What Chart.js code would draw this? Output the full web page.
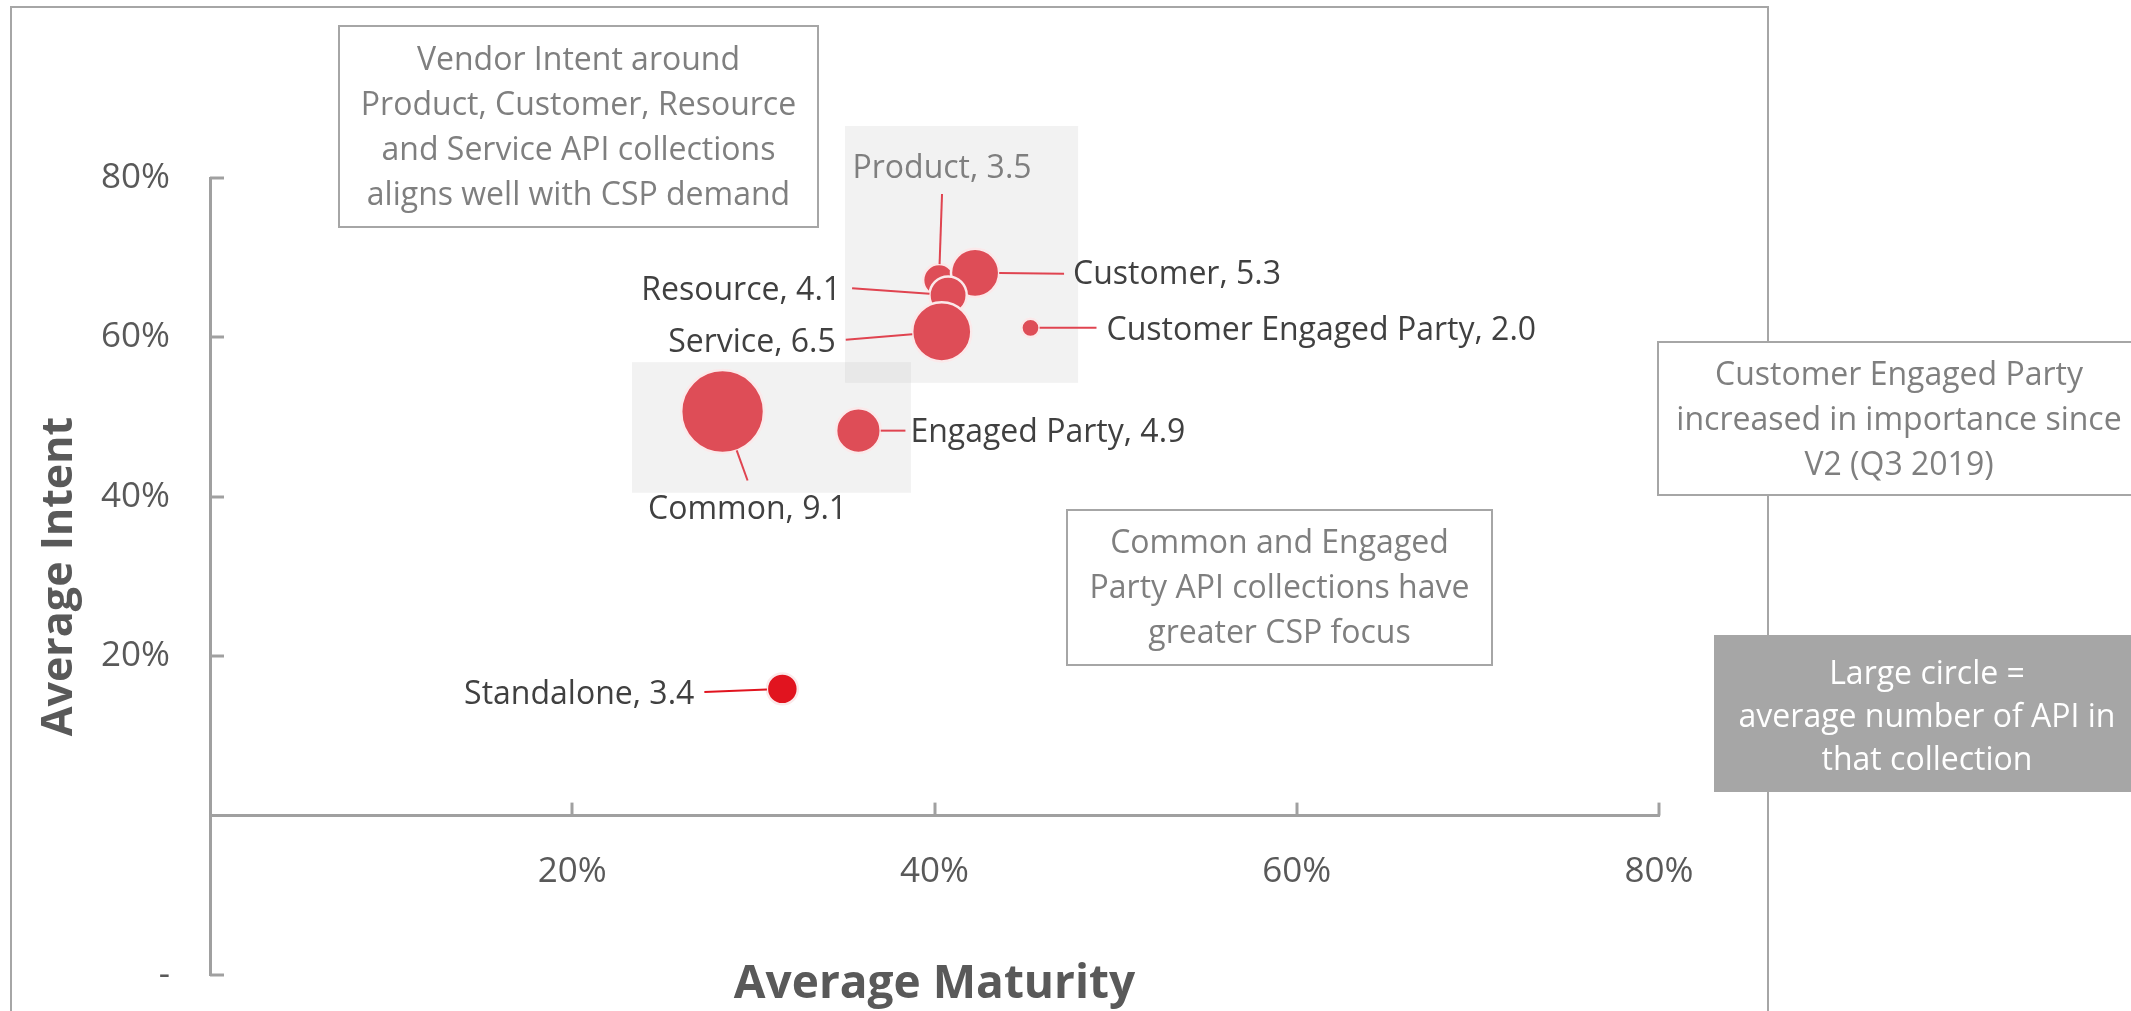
<!DOCTYPE html>
<html><head><meta charset="utf-8">
<script src="https://cdn.jsdelivr.net/npm/chart.js@4/dist/chart.umd.min.js"></script>
<style>html,body{margin:0;padding:0;background:#fff;overflow:hidden}canvas{display:block}</style>
</head><body>
<canvas id="c" width="2131" height="1011"></canvas>
<script>
// ---------- data ----------
const categories = ['Product','Customer','Resource','Service','Customer Engaged Party','Engaged Party','Common','Standalone'];
const maturity   = [0.4025, 0.4224, 0.4075, 0.404, 0.453, 0.358, 0.283, 0.316];
const intent     = [0.672, 0.681, 0.653, 0.607, 0.612, 0.483, 0.507, 0.159];
const apiCount   = [3.5, 5.3, 4.1, 6.5, 2.0, 4.9, 9.1, 3.4];
const xTickValues = [0, 0.2, 0.4, 0.6, 0.8];
const yTickValues = [-0.2, 0, 0.2, 0.4, 0.6, 0.8];
const xTitle = 'Average Maturity';
const yTitle = 'Average Intent';

// highlight regions (data coordinates)
const highlightX0 = [0.3506, 0.233];
const highlightX1 = [0.4793, 0.387];
const highlightY0 = [0.543, 0.405];
const highlightY1 = [0.8652, 0.569];

// annotation texts
const noteVendor = ['Vendor Intent around','Product, Customer, Resource','and Service API collections','aligns well with CSP demand'];
const noteCommon = ['Common and Engaged','Party API collections have','greater CSP focus'];
const noteCEP    = ['Customer Engaged Party','increased in importance since','V2 (Q3 2019)'];
const noteLegend = ['Large circle =','average number of API in','that collection'];

// ---------- styles / layout ----------
const FONT = "'Open Sans', 'Noto Sans', sans-serif";
const BUBBLE = '#de4d57';
const BUBBLE_HI = '#e1141f';
const RADIUS_PER_UNIT = 4.55;
const AXIS = '#a0a0a0';

const labelLayout = {
  'Product':               {dx:3,    dy:-111, align:'center', lead:[3,-86],  color:'#7f7f7f'},
  'Customer':              {dx:98,   dy:2,    align:'left',   lead:[89,1]},
  'Resource':              {dx:-107, dy:-4,   align:'right',  lead:[-96,-7]},
  'Service':               {dx:-106, dy:11,   align:'right',  lead:[-96,8]},
  'Customer Engaged Party':{dx:76,   dy:3,    align:'left',   lead:[66,0]},
  'Engaged Party':         {dx:52,   dy:2,    align:'left',   lead:[47,0]},
  'Common':                {dx:25,   dy:98,   align:'center', lead:[25,69]},
  'Standalone':            {dx:-88,  dy:6,    align:'right',  lead:[-78,3]}
};

const noteBoxes = [
  {lines:noteVendor, x:339,  y:26,  w:479, h:201, first:61,  lh:45, fill:'#ffffff', stroke:'#a6a6a6', color:'#7f7f7f'},
  {lines:noteCommon, x:1067, y:510, w:425, h:155, first:544, lh:45, fill:'#ffffff', stroke:'#a6a6a6', color:'#7f7f7f'},
  {lines:noteCEP,    x:1658, y:342, w:482, h:153, first:376, lh:45, fill:'#ffffff', stroke:'#a6a6a6', color:'#7f7f7f'},
  {lines:noteLegend, x:1714, y:635, w:426, h:157, first:675, lh:43, fill:'#a6a6a6', stroke:null,     color:'#ffffff'}
];

const points = categories.map((c, i) => ({x: maturity[i], y: intent[i], r: apiCount[i] * RADIUS_PER_UNIT}));

function pct(v){
  const p = Math.round(v * 100);
  if (p === 0) return '';
  if (p < 0) return '-';
  return p + '%';
}

const decor = {
  id: 'decor',
  beforeDraw(chart){
    const ctx = chart.ctx;
    ctx.save();
    ctx.strokeStyle = '#a6a6a6';
    ctx.lineWidth = 2;
    ctx.strokeRect(11, 7, 1757, 1100);
    ctx.restore();
  },
  beforeDatasetsDraw(chart){
    const {ctx, scales:{x, y}} = chart;
    ctx.save();
    ctx.fillStyle = 'rgba(191,191,191,0.2)';
    for (let i = 0; i < highlightX0.length; i++){
      const l = x.getPixelForValue(highlightX0[i]), r = x.getPixelForValue(highlightX1[i]);
      const t = y.getPixelForValue(highlightY1[i]), b = y.getPixelForValue(highlightY0[i]);
      ctx.fillRect(l, t, r - l, b - t);
    }
    ctx.restore();
  },
  afterDatasetsDraw(chart){
    const {ctx, scales:{x, y}} = chart;
    const meta = chart.getDatasetMeta(0);
    ctx.save();
    // tick marks (inside)
    ctx.strokeStyle = AXIS; ctx.lineWidth = 3;
    const x0 = x.getPixelForValue(0), y0 = y.getPixelForValue(0);
    yTickValues.forEach(v => { if (Math.abs(v) < 1e-9) return; const py = Math.round(y.getPixelForValue(v));
      ctx.beginPath(); ctx.moveTo(x0, py); ctx.lineTo(x0 + 14, py); ctx.stroke(); });
    xTickValues.forEach(v => { if (Math.abs(v) < 1e-9) return; const px = Math.round(x.getPixelForValue(v));
      ctx.beginPath(); ctx.moveTo(px, y0); ctx.lineTo(px, y0 - 13); ctx.stroke(); });

    // leader lines + labels
    ctx.font = '32px ' + FONT;
    ctx.textBaseline = 'middle';
    categories.forEach((c, i) => {
      const el = meta.data[i];
      const L = labelLayout[c];
      const cx = el.x, cy = el.y, r = points[i].r;
      const sx = cx + L.lead[0], sy = cy + L.lead[1];
      const d = Math.hypot(L.lead[0], L.lead[1]);
      const ex = cx + L.lead[0] / d * r, ey = cy + L.lead[1] / d * r;
      ctx.strokeStyle = i === 7 ? BUBBLE_HI : '#e04450';
      ctx.lineWidth = 2;
      ctx.beginPath(); ctx.moveTo(sx, sy); ctx.lineTo(ex, ey); ctx.stroke();
      ctx.fillStyle = L.color || '#404040';
      ctx.textAlign = L.align;
      ctx.fillText(c + ', ' + apiCount[i].toFixed(1), cx + L.dx, cy + L.dy);
    });

    // note boxes
    noteBoxes.forEach(b => {
      ctx.fillStyle = b.fill;
      ctx.fillRect(b.x, b.y, b.w, b.h);
      if (b.stroke){ ctx.strokeStyle = b.stroke; ctx.lineWidth = 2; ctx.strokeRect(b.x, b.y, b.w, b.h); }
      ctx.fillStyle = b.color;
      ctx.textAlign = 'center';
      ctx.font = '32px ' + FONT;
      b.lines.forEach((t, k) => ctx.fillText(t, b.x + b.w / 2, b.first + k * b.lh));
    });
    ctx.restore();
  }
};

new Chart(document.getElementById('c'), {
  type: 'bubble',
  data: {
    datasets: [{
      label: 'API collections',
      data: points,
      backgroundColor: ctx => ctx.dataIndex === 7 ? BUBBLE_HI : BUBBLE,
      borderColor: '#fbe9ea',
      borderWidth: 2.5,
      hoverRadius: 0
    }]
  },
  options: {
    responsive: false,
    animation: false,
    devicePixelRatio: 1,
    layout: {autoPadding: false, padding: {left: 0, top: 178, right: 472, bottom: 36}},
    plugins: {legend: {display: false}, tooltip: {enabled: false}},
    scales: {
      x: {
        type: 'linear', min: 0, max: 0.8, position: {y: 0},
        afterFit(s){ s.height = 0; s.paddingTop = 0; s.paddingBottom = 0; },
        afterBuildTicks(s){ s.ticks = xTickValues.map(v => ({value: v})); },
        grid: {display: false, drawTicks: false},
        border: {display: true, color: AXIS, width: 3},
        ticks: {padding: 35, color: '#595959', font: {family: FONT, size: 35}, maxRotation: 0, callback: v => pct(v)},
        title: {display: true, text: xTitle, color: '#595959', font: {family: FONT, size: 46, weight: 'bold'}, padding: {top: 0, bottom: -197}}
      },
      y: {
        type: 'linear', min: -0.2, max: 0.8, position: 'left',
        afterFit(s){ s.width = 210; s.paddingTop = 0; s.paddingBottom = 0; },
        afterBuildTicks(s){ s.ticks = yTickValues.map(v => ({value: v})); },
        grid: {display: false, drawTicks: false},
        border: {display: true, color: AXIS, width: 3},
        ticks: {padding: 40, color: '#595959', font: {family: FONT, size: 35}, callback: v => pct(v)},
        title: {display: true, text: yTitle, color: '#595959', font: {family: FONT, size: 43, weight: 'bold'}, padding: {top: 34, bottom: 0}}
      }
    }
  },
  plugins: [decor]
});
</script>
</body></html>
